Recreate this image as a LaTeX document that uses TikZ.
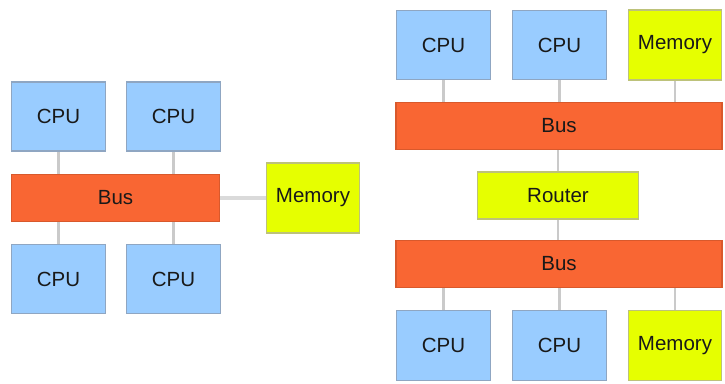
\documentclass[tikz,border=0pt]{standalone}
\usepackage{fontspec}
\setmainfont{Liberation Sans}
\begin{document}
\begin{tikzpicture}[x=1pt,y=-1pt,
  box/.style={rectangle, line width=1.6pt, inner sep=0pt, font=\fontsize{20.5}{22}\selectfont, text=black!90},
  cpu/.style={box, fill=cpuC, draw=cpuB, minimum width=94pt, minimum height=69pt},
  mem/.style={box, fill=memC, draw=memB, minimum width=93pt, minimum height=70pt},
  bus/.style={box, fill=busC, draw=busB, minimum height=47pt},
  link/.style={draw=linkC, line width=2.6pt}]
\definecolor{cpuC}{HTML}{99CCFF}
\definecolor{cpuB}{HTML}{8FA6C2}
\definecolor{memC}{HTML}{E6FF00}
\definecolor{memB}{HTML}{BDC27A}
\definecolor{busC}{HTML}{F96633}
\definecolor{busB}{HTML}{D8592C}
\definecolor{linkC}{HTML}{CACACA}
\useasboundingbox[fill=white] (0,0) rectangle (725,383);
% left system
\node[cpu] (l1) at (58.5,116.5) {CPU};
\node[cpu] (l2) at (173.5,116.5) {CPU};
\node[bus, minimum width=208pt] (lb) at (115.5,198) {Bus};
\node[mem] (lm) at (313,198) {Memory};
\node[cpu] (l3) at (58.5,279) {CPU};
\node[cpu] (l4) at (173.5,279) {CPU};
\draw[link] (l1.south) -- (l1.south |- lb.north);
\draw[link] (l2.south) -- (l2.south |- lb.north);
\draw[link] (l3.north) -- (l3.north |- lb.south);
\draw[link] (l4.north) -- (l4.north |- lb.south);
\draw[draw=linkC!70, line width=4.5pt] (lb.east) -- (lm.west);
% right system
\node[cpu] (r1) at (443.5,45) {CPU};
\node[cpu] (r2) at (559.5,45) {CPU};
\node[mem] (r3) at (675,45) {Memory};
\node[bus, minimum width=326pt] (rb1) at (559,126) {Bus};
\node[mem, minimum width=161pt, minimum height=47pt] (rr) at (558,195.5) {Router};
\node[bus, minimum width=326pt] (rb2) at (559,264) {Bus};
\node[cpu, minimum height=70pt] (r4) at (443.5,345.5) {CPU};
\node[cpu, minimum height=70pt] (r5) at (559.5,345.5) {CPU};
\node[mem, minimum height=70pt] (r6) at (675,345.5) {Memory};
\draw[link] (r1.south) -- (r1.south |- rb1.north);
\draw[link] (r2.south) -- (r2.south |- rb1.north);
\draw[link] (r3.south) -- (r3.south |- rb1.north);
\draw[link] (rr.north) -- (rr.north |- rb1.south);
\draw[link] (rr.south) -- (rr.south |- rb2.north);
\draw[link] (r4.north) -- (r4.north |- rb2.south);
\draw[link] (r5.north) -- (r5.north |- rb2.south);
\draw[link] (r6.north) -- (r6.north |- rb2.south);
\end{tikzpicture}
\end{document}
